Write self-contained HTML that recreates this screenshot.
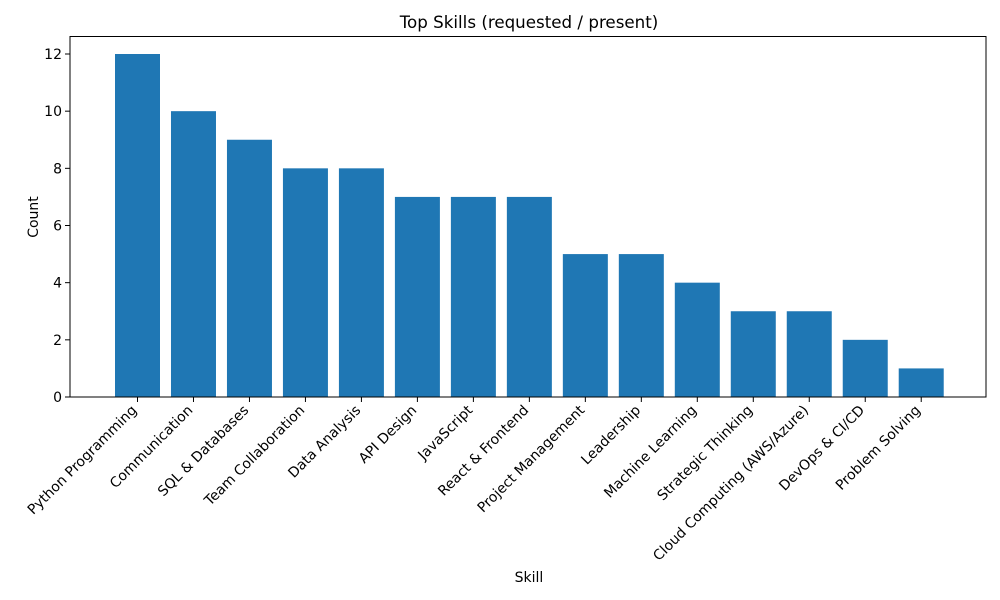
<!DOCTYPE html>
<html><head><meta charset="utf-8"><style>body{margin:0;background:#fff}svg{display:block;font-family:"DejaVu Sans","Liberation Sans",sans-serif}</style></head>
<body>
<svg id="chart" width="1000" height="600">
<rect width="1000" height="600" fill="#fff"/>
<text x="529" y="28" text-anchor="middle" font-size="16.7">Top Skills (requested / present)</text>
<text x="529" y="582" text-anchor="middle" font-size="14">Skill</text>
<text transform="translate(38,217) rotate(-90)" text-anchor="middle" font-size="14">Count</text>
<g id="bars"></g><g id="xticks"></g><g id="yticks"></g>
<rect x="70" y="36.5" width="916" height="360.5" fill="none" stroke="#000" stroke-width="1"/>
</svg>
<script>
const categories=["Python Programming","Communication","SQL & Databases","Team Collaboration","Data Analysis","API Design","JavaScript","React & Frontend","Project Management","Leadership","Machine Learning","Strategic Thinking","Cloud Computing (AWS/Azure)","DevOps & CI/CD","Problem Solving"];
const counts=[12,10,9,8,8,7,7,7,5,5,4,3,3,2,1];
const yTicks=[0,2,4,6,8,10,12];
const NS="http://www.w3.org/2000/svg";
const yBase=397,yUnit=343/12;
const x=i=>137.5+i*55.98;
const y=v=>yBase-v*yUnit;
function mk(t,a,p){const e=document.createElementNS(NS,t);for(const k in a)e.setAttribute(k,a[k]);p.appendChild(e);return e;}
const bars=document.getElementById('bars'),xt=document.getElementById('xticks'),yt=document.getElementById('yticks');
categories.forEach((c,i)=>{
 const r=mk('rect',{x:x(i)-22.5,y:y(counts[i]),width:45,height:yBase-y(counts[i]),fill:'#1f77b4'},bars);
 
 
 const l=mk('line',{x1:x(i),x2:x(i),y1:yBase,y2:yBase+5,stroke:'#000'},xt);
 
 
 const t=mk('text',{transform:`translate(${x(i)},${yBase+14}) rotate(-45)`,'text-anchor':'end','font-size':'14'},xt);
 t.textContent=c;
 
 
});
yTicks.forEach(v=>{
 const l=mk('line',{x1:65,x2:70,y1:y(v),y2:y(v),stroke:'#000'},yt);
 
 
 const t=mk('text',{x:62,y:y(v)+5,'text-anchor':'end','font-size':'14'},yt);
 t.textContent=v;
 
 
});
</script>
</body></html>
